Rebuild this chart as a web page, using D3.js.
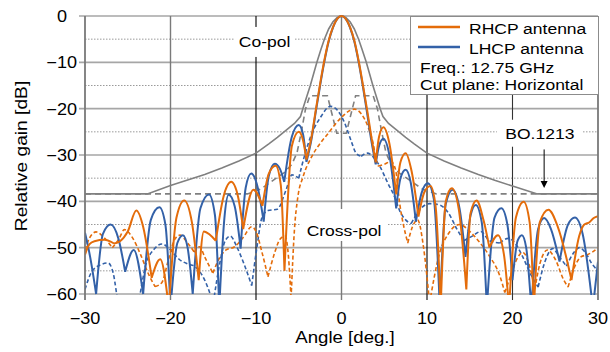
<!DOCTYPE html>
<html><head><meta charset="utf-8">
<script src="https://cdn.jsdelivr.net/npm/d3@7"></script>
<style>body{margin:0;background:#fff}svg{display:block}text{font-family:"Liberation Sans",Arial,sans-serif;fill:#000}</style>
</head><body><svg id="c" width="610" height="352"></svg>
<script>
// ---- data (angle deg, relative gain dB) ----
const xTicks=[-30,-20,-10,0,10,20,30];
const yTicks=[0,-10,-20,-30,-40,-50,-60];
const yMinor=[-5,-15,-25,-35,-45,-55];
const seriesNames=["RHCP antenna","LHCP antenna"];
const legendNotes=["Freq.: 12.75 GHz","Cut plane: Horizontal"];

const rhcpCo=[[-30,-51.5],[-29.5,-49.3],[-28.9,-48.6],[-27.7,-48.3],[-26.6,-49.1],[-25.9,-48.6],[-25.0,-46.5],[-24.0,-42.0],[-23.2,-45.5],[-22.2,-56.5],[-21.2,-52.5],[-20.2,-63],[-19.3,-43.5],[-18.4,-39.8],[-17.5,-44.5],[-16.7,-57],[-16.1,-46.5],[-15.4,-47.2],[-14.7,-48.5],[-13.8,-39],[-12.9,-35.8],[-12.1,-39],[-11.5,-46],[-10.3,-37.5],[-9.25,-41],[-8.5,-34],[-7.7,-32.3],[-7.1,-36.5],[-6.67,-55],[-5.8,-28],[-5.0,-25],[-4.5,-26.8],[-4.1,-31],[-3.5,-26],[-3,-20.2],[-2.5,-14.6],[-2,-9.5],[-1.5,-5.3],[-1,-2.4],[-0.5,-0.6],[0,0],[0.5,-0.6],[1,-2.4],[1.5,-5.3],[2,-9.6],[2.5,-14.8],[3,-20.3],[3.5,-26.2],[4.0,-31.6],[4.4,-26],[4.9,-24],[5.6,-27.5],[6.4,-38.5],[6.9,-31.5],[7.5,-29.6],[8.2,-33.5],[9.0,-43.3],[9.7,-38],[10.4,-36.7],[11.0,-41],[11.6,-63],[12.2,-40],[12.9,-37.2],[13.7,-41.5],[14.6,-59],[15.1,-42.5],[15.8,-39.8],[16.6,-44],[17.3,-50],[18.3,-47.3],[19.0,-51.5],[19.6,-63],[20.4,-43.5],[21.3,-40.1],[22.0,-44.5],[22.5,-63],[23.2,-44.5],[24.2,-41.8],[25.3,-45.5],[26.9,-57],[27.8,-47.5],[28.4,-45],[29.0,-44.5],[29.5,-43.6],[30,-43.2]];

const lhcpCo=[[-30,-46.8],[-29.4,-52],[-28.7,-60],[-27.9,-47],[-27.0,-45.0],[-26.1,-48],[-25.3,-55.2],[-24.3,-50.5],[-23.2,-60],[-22.3,-44],[-21.3,-41.3],[-20.6,-45],[-20.0,-63],[-19.2,-49],[-18.55,-47.3],[-18.0,-50],[-17.4,-60],[-16.5,-41.5],[-15.5,-38.5],[-14.8,-43],[-14.3,-63],[-13.7,-43.7],[-13.2,-38.6],[-12.5,-41],[-11.8,-50.2],[-11.2,-37],[-10.56,-34],[-9.8,-37],[-9.1,-44.4],[-8.5,-34.5],[-7.8,-31.9],[-7.2,-33],[-6.7,-35.8],[-5.8,-26],[-5.0,-23.5],[-4.5,-25.5],[-4.1,-31.5],[-3.5,-26.5],[-3,-20.6],[-2.5,-15],[-2,-9.8],[-1.5,-5.5],[-1,-2.5],[-0.5,-0.6],[0,0],[0.5,-0.6],[1,-2.5],[1.5,-5.5],[2,-9.9],[2.5,-15.2],[3,-21],[3.5,-27],[4.0,-32],[4.4,-28],[4.9,-26.5],[5.6,-30],[6.4,-41.5],[6.9,-35],[7.5,-33.2],[8.1,-36],[8.7,-44.4],[9.4,-38],[10.1,-36.1],[10.8,-39.5],[11.5,-63],[12.2,-40.5],[13.0,-37.5],[13.8,-41.5],[14.5,-52],[15.1,-43],[15.7,-40.8],[16.4,-44.5],[17.0,-63],[17.9,-43.5],[18.7,-41.5],[19.4,-45],[20.0,-57],[20.6,-48.5],[21.1,-47.3],[21.6,-50],[22.2,-63],[23.0,-46],[23.7,-43.6],[24.5,-46],[25.5,-53],[26.5,-45],[27.3,-43.5],[28.2,-47],[29.4,-63],[30,-53]];

const rhcpX=[[-30,-50.5],[-29.5,-48],[-28.7,-46.6],[-27.8,-47.8],[-26.8,-50],[-26,-48],[-25.4,-46.1],[-24.4,-48],[-23.5,-51.5],[-22.5,-56],[-21.8,-58.4],[-21,-57.5],[-20.3,-53],[-19.5,-48.2],[-18.9,-47.3],[-18,-49],[-17.2,-51],[-16.6,-49.8],[-16,-52],[-15.05,-55.5],[-14.2,-52],[-13.5,-50.5],[-12.5,-49.8],[-11.5,-47.8],[-10.5,-45.5],[-10,-46.5],[-9.3,-51],[-8.6,-56.3],[-7.8,-51],[-7.2,-48.2],[-6.6,-47.5],[-6.2,-52],[-5.9,-61],[-5.5,-46],[-5.1,-39],[-4.5,-34.7],[-3.5,-30.4],[-2.5,-27.5],[-1.5,-25.2],[-0.8,-23.5],[0.15,-21.6],[1.1,-20.3],[1.5,-20.1],[2.3,-21.1],[3.1,-23.9],[3.7,-27.5],[4.05,-31],[4.3,-32.4],[5.0,-32],[5.8,-31.4],[6.3,-33],[6.8,-40.4],[7.75,-49],[8.3,-45.5],[8.9,-44],[9.6,-50],[10.3,-62],[11.5,-51],[12.5,-47],[13.8,-45],[15,-46.5],[16,-48.5],[17.3,-51.8],[18.5,-56],[19.1,-59.7],[19.8,-56],[20.5,-52.5],[21.2,-51],[22,-54],[22.6,-59],[23.2,-53.5],[24.1,-50.5],[25,-52.5],[26,-57],[26.5,-58.5],[27.3,-54],[28,-52],[28.8,-51.5],[29.3,-51],[30,-50]];

const lhcpX=[[-30,-59],[-29.3,-55.5],[-28.3,-53.8],[-27.3,-53.3],[-26.7,-55.5],[-26.1,-62],[-25,-66],[-23.8,-62],[-22.85,-53.4],[-21.9,-50.3],[-21,-49.2],[-20,-50.5],[-19,-52.5],[-18,-53.5],[-17.2,-54],[-16,-57],[-15,-62],[-14.2,-53],[-13.6,-48.5],[-13.0,-47.5],[-12.2,-50],[-11.3,-54],[-10.5,-58.2],[-9.9,-50],[-9.3,-43.5],[-8.6,-42],[-7.5,-41.7],[-6.5,-37.6],[-5.8,-34.3],[-5.0,-35],[-4.3,-30],[-3.5,-25.5],[-2.5,-22],[-1.3,-19.5],[-0.5,-20.3],[0.35,-23],[1.1,-26.8],[1.7,-29.6],[2.3,-30.3],[3.0,-29.6],[3.7,-30.4],[4.5,-32.5],[5.4,-36],[6.2,-39],[6.8,-42],[7.5,-44],[8.15,-44.8],[9.3,-41.5],[10.3,-40.5],[11.5,-40.8],[12.5,-42.5],[13.5,-46],[14.3,-48.5],[15.3,-47.5],[16.3,-46.5],[17.3,-48.5],[18.5,-49],[19.5,-48],[20.3,-49],[21.2,-52],[22.2,-56],[23,-58.5],[23.8,-53],[24.7,-50.2],[25.5,-52],[26.3,-54],[27.2,-51],[27.8,-50],[28.5,-51],[29.3,-53.5],[30,-55]];

const copolMask=[[-30,-38.4],[-22.7,-38.4],[-20,-36.6],[-18,-35.4],[-16,-34.2],[-14,-32.8],[-12,-31.3],[-10,-29.6],[-8.5,-27.6],[-7.5,-26.2],[-6.5,-24.7],[-5.5,-23.2],[-4.8,-21.7],[-4.52,-20],[-3.65,-15],[-2.88,-10],[-2.4,-7.2],[-2,-5],[-1.5,-2.8],[-1,-1.25],[-0.5,-0.3],[0,0],[0.5,-0.3],[1,-1.25],[1.5,-2.8],[2,-5],[2.4,-7.2],[2.9,-10],[3.67,-15],[4.52,-20],[4.85,-21.7],[5.5,-23.2],[6.5,-24.7],[7.5,-26.2],[8.5,-27.6],[10,-29.6],[12,-31.3],[14,-32.8],[16,-34.2],[18,-35.5],[20,-36.7],[22.9,-38.4],[30,-38.4]];

const xpolMask=[[-30,-38.4],[-11,-38.4],[-9.5,-37.4],[-7.8,-35.2],[-6.7,-33.8],[-5.8,-32],[-5.2,-29.5],[-4.7,-25],[-4.2,-20],[-3.7,-17.2],[-1.65,-17.2],[-0.55,-25.3],[0.55,-25.3],[1.65,-17.2],[3.7,-17.2],[4.2,-20],[4.7,-25],[5.2,-29.5],[5.8,-32],[6.7,-33.8],[7.8,-35.2],[9.5,-37.4],[11.1,-38.4],[30,-38.4]];

// annotations: [text, angle, dB of box centre]
const annCo=["Co-pol",-9,-5.6];
const annCross=["Cross-pol",0.3,-45.1];
const annBO=["BO.1213",23.2,-25.3];
const arrowAt=[23.7,-28.8,-37.1];

// ---- layout ----
const svg=d3.select("#c");
const x=d3.scaleLinear().domain([-30,30]).range([85,598]);
const y=d3.scaleLinear().domain([-60,0]).range([294,16]);
const ORANGE="#e46c0a",BLUE="#3361a8",GRAY="#808080",GRID="#a6a6a6";
const SX=1.13;
const fmt=d3.format("d");
function label(g,px,py,txt,size,anchor){
  return g.append("g").attr("transform",`translate(${px},${py}) scale(${SX},1)`)
    .append("text").attr("text-anchor",anchor||"start").attr("font-size",size).text(txt);
}

const grid=svg.append("g");
grid.selectAll(".mn").data(yMinor).join("line")
  .attr("x1",x(-30)).attr("x2",x(30)).attr("y1",d=>y(d)).attr("y2",d=>y(d))
  .attr("stroke","#9a9a9a").attr("stroke-width",1).attr("stroke-dasharray","1.5,1.5");
grid.selectAll(".mj").data(yTicks).join("line")
  .attr("x1",x(-30)-6).attr("x2",x(30)).attr("y1",d=>y(d)).attr("y2",d=>y(d))
  .attr("stroke",GRID).attr("stroke-width",1.6);
grid.selectAll(".vg").data(xTicks).join("line")
  .attr("x1",d=>x(d)).attr("x2",d=>x(d)).attr("y1",y(0)).attr("y2",y(-60)+6)
  .attr("stroke",d=>(d===-10||d===10)?"#000":(d===20?"#333":"#7a7a7a"))
  .attr("stroke-width",d=>(d===-10||d===10||d===20)?1.1:1.4);

svg.append("clipPath").attr("id","clp").append("rect")
  .attr("x",x(-30)).attr("y",y(0)-2).attr("width",x(30)-x(-30)).attr("height",y(-60)-y(0)+3);

function splitPath(data,curve){
  const gen=d3.line().x(d=>x(d[0])).y(d=>y(d[1])).curve(curve);
  const segs=[];let cur=[data[0]];
  for(let i=1;i<data.length;i++){
    cur.push(data[i]);
    if(i<data.length-1&&data[i][1]<data[i-1][1]&&data[i][1]<data[i+1][1]){segs.push(cur);cur=[data[i]];}
  }
  segs.push(cur);
  return segs.map(s=>gen(s)).join("");
}
const plot=svg.append("g").attr("clip-path","url(#clp)");
const lin=d3.line().x(d=>x(d[0])).y(d=>y(d[1]));
plot.append("path").attr("d",lin(copolMask)).attr("fill","none").attr("stroke",GRAY).attr("stroke-width",1.6);
plot.append("path").attr("d",lin(xpolMask)).attr("fill","none").attr("stroke",GRAY).attr("stroke-width",1.6).attr("stroke-dasharray","6,4");

const curves=[
  {d:lhcpX,c:BLUE,dash:"4,2.5",w:1.6},
  {d:rhcpX,c:ORANGE,dash:"4,2.5",w:1.6},
  {d:lhcpCo,c:BLUE,dash:null,w:2},
  {d:rhcpCo,c:ORANGE,dash:null,w:2}
];
curves.forEach(s=>{
  plot.append("path").attr("d",splitPath(s.d,d3.curveMonotoneX)).attr("fill","none")
    .attr("stroke",s.c).attr("stroke-width",s.w).attr("stroke-dasharray",s.dash)
    .attr("stroke-linejoin","round");
});

svg.append("line").attr("x1",x(-30)).attr("x2",x(-30)).attr("y1",y(0)).attr("y2",y(-60)+6).attr("stroke","#7a7a7a").attr("stroke-width",1.4);
svg.append("line").attr("x1",x(30)).attr("x2",x(30)).attr("y1",y(0)).attr("y2",y(-60)+6).attr("stroke","#7a7a7a").attr("stroke-width",1.4);

const ax=svg.append("g");
// non-negative labels carry a figure-space pad (as in the source chart's number format)
yTicks.forEach(v=>label(ax,77,y(v)+6,v<0?fmt(v):fmt(v)+"\u2007",16,"end"));
xTicks.forEach(v=>label(ax,x(v),324,fmt(v),16,"middle"));
label(ax,345,343,"Angle [deg.]",16.5,"middle");
ax.append("g").attr("transform",`translate(27,${(y(0)+y(-60))/2+1}) rotate(-90) scale(${SX},1)`)
  .append("text").attr("text-anchor","middle").attr("font-size",17).text("Relative gain [dB]");

function ann(a,w,h,dy){
  const cx=x(a[1]),cy=y(a[2]);
  svg.append("rect").attr("x",cx-w/2).attr("y",cy-h/2).attr("width",w).attr("height",h).attr("fill","#fff");
  label(svg,cx,cy+dy,a[0],15.5,"middle");
}
ann(annCo,60,30,5);
ann(annCross,86,32,11);
ann(annBO,86,27,6);
svg.append("line").attr("x1",x(arrowAt[0])).attr("x2",x(arrowAt[0])).attr("y1",y(arrowAt[1])).attr("y2",y(arrowAt[2])-4)
  .attr("stroke","#000").attr("stroke-width",1);
svg.append("path").attr("d",`M${x(arrowAt[0])-3.5},${y(arrowAt[2])-7}L${x(arrowAt[0])+3.5},${y(arrowAt[2])-7}L${x(arrowAt[0])},${y(arrowAt[2])}Z`).attr("fill","#000");

const lg=svg.append("g");
lg.append("rect").attr("x",410.5).attr("y",16.5).attr("width",188).attr("height",78).attr("fill","#fff").attr("stroke","#8c8c8c");
[ORANGE,BLUE].forEach((c,i)=>{
  lg.append("line").attr("x1",418).attr("x2",460).attr("y1",27+i*20).attr("y2",27+i*20).attr("stroke",c).attr("stroke-width",2.5);
  label(lg,469,34+i*19.5,seriesNames[i],15.5,"start");
});
legendNotes.forEach((t,i)=>label(lg,420,73+i*17,t,15.5,"start"));
</script></body></html>
